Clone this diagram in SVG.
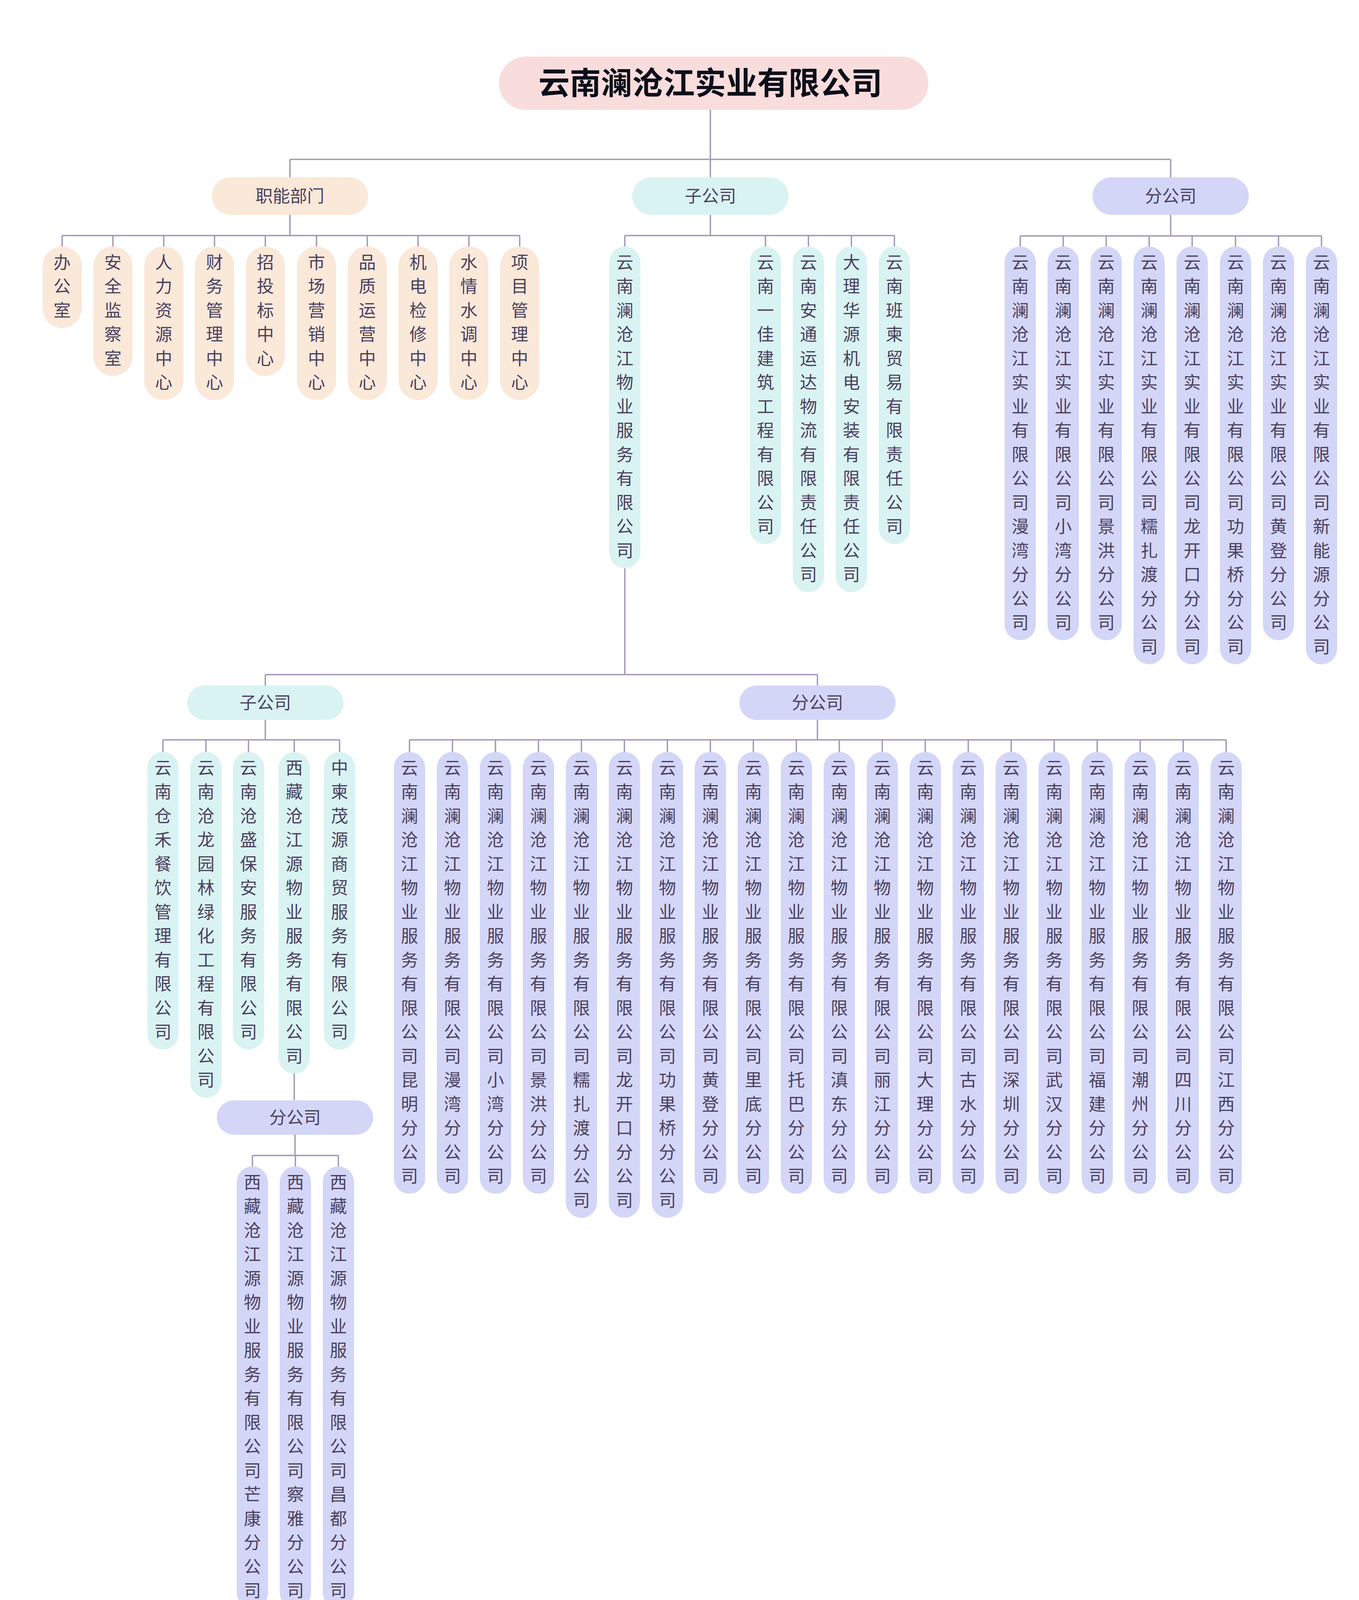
<svg xmlns="http://www.w3.org/2000/svg" width="3478" height="4191" viewBox="0 0 3478 4191">
<style>
.ln{fill:none;stroke:#a398b8;stroke-width:3.5}
.t{font-family:"Liberation Sans","Noto Sans CJK SC",sans-serif;font-size:44px;fill:#4a405f;text-anchor:middle;dominant-baseline:central}
.root{fill:#f9dcdc}.fn{fill:#fae8d9}.sb{fill:#d9f3f2}.br{fill:#d3d6f7}
</style>
<rect width="3478" height="4191" fill="#ffffff"/>
<g id="connectors" class="ln">
<path d="M1818 281V454M742 408H2996M742 408V454M2996 408V455"/>
<path d="M742 550V603M159 603H1330M159 603V631M289 603V631M419 603V631M549 603V631M679 603V631M810 603V631M940 603V631M1070 603V631M1200 603V631M1330 603V631"/>
<path d="M1818 550V603M1599 603H2289M1599 603V631M1959 603V631M2069 603V631M2179 603V631M2289 603V631"/>
<path d="M2996 549V604M2611 604H3382M2611 604V631M2721 604V631M2831 604V631M2941 604V631M3051 604V631M3162 604V631M3272 604V631M3382 604V631"/>
<path d="M1599 1455V1727M679 1727H2092M679 1727V1756M2092 1727V1756"/>
<path d="M679 1843V1894M417 1894H869M417 1894V1925M527 1894V1925M636 1894V1925M753 1894V1925M869 1894V1925"/>
<path d="M2092 1843V1894M1048 1894H3138M1048 1894V1925M1158 1894V1925M1268 1894V1925M1378 1894V1925M1488 1894V1925M1598 1894V1925M1708 1894V1925M1818 1894V1925M1928 1894V1925M2038 1894V1925M2148 1894V1925M2258 1894V1925M2368 1894V1925M2478 1894V1925M2588 1894V1925M2698 1894V1925M2808 1894V1925M2918 1894V1925M3028 1894V1925M3138 1894V1925"/>
<path d="M753 2748V2816M755 2905V2958M646 2958H866M646 2958V2986M756 2958V2986M866 2958V2986"/>
</g>
<g id="root"><rect class="root" x="1277" y="145" width="1099" height="136" rx="68"/><text x="1818" y="213" font-family="Liberation Sans, Noto Sans CJK SC, sans-serif" font-size="80" font-weight="700" fill="#0b0f19" text-anchor="middle" dominant-baseline="central">云南澜沧江实业有限公司</text></g>
<g id="zhineng"><rect class="fn" x="542" y="454" width="400" height="96" rx="48"/><text class="t" x="742" y="502">职能部门</text></g>
<g id="zigongsi"><rect class="sb" x="1618" y="454" width="400" height="96" rx="48"/><text class="t" x="1818" y="502">子公司</text></g>
<g id="fengongsi"><rect class="br" x="2796" y="454" width="400" height="96" rx="48"/><text class="t" x="2996" y="502">分公司</text></g>

<g id="f1"><rect class="fn" x="109" y="631" width="100" height="208.5" rx="50"/><text class="t" x="159 159 159" y="672 733.5 795">办公室</text></g>
<g id="f2"><rect class="fn" x="239" y="631" width="100" height="331.5" rx="50"/><text class="t" x="289 289 289 289 289" y="672 733.5 795 856.5 918">安全监察室</text></g>
<g id="f3"><rect class="fn" x="369" y="631" width="100" height="393" rx="50"/><text class="t" x="419 419 419 419 419 419" y="672 733.5 795 856.5 918 979.5">人力资源中心</text></g>
<g id="f4"><rect class="fn" x="499" y="631" width="100" height="393" rx="50"/><text class="t" x="549 549 549 549 549 549" y="672 733.5 795 856.5 918 979.5">财务管理中心</text></g>
<g id="f5"><rect class="fn" x="629" y="631" width="100" height="331.5" rx="50"/><text class="t" x="679 679 679 679 679" y="672 733.5 795 856.5 918">招投标中心</text></g>
<g id="f6"><rect class="fn" x="760" y="631" width="100" height="393" rx="50"/><text class="t" x="810 810 810 810 810 810" y="672 733.5 795 856.5 918 979.5">市场营销中心</text></g>
<g id="f7"><rect class="fn" x="890" y="631" width="100" height="393" rx="50"/><text class="t" x="940 940 940 940 940 940" y="672 733.5 795 856.5 918 979.5">品质运营中心</text></g>
<g id="f8"><rect class="fn" x="1020" y="631" width="100" height="393" rx="50"/><text class="t" x="1070 1070 1070 1070 1070 1070" y="672 733.5 795 856.5 918 979.5">机电检修中心</text></g>
<g id="f9"><rect class="fn" x="1150" y="631" width="100" height="393" rx="50"/><text class="t" x="1200 1200 1200 1200 1200 1200" y="672 733.5 795 856.5 918 979.5">水情水调中心</text></g>
<g id="f10"><rect class="fn" x="1280" y="631" width="100" height="393" rx="50"/><text class="t" x="1330 1330 1330 1330 1330 1330" y="672 733.5 795 856.5 918 979.5">项目管理中心</text></g>

<g id="s1"><rect class="sb" x="1559" y="631" width="80" height="823.5" rx="40"/><text class="t" x="1599 1599 1599 1599 1599 1599 1599 1599 1599 1599 1599 1599 1599" y="672 733.5 795 856.5 918 979.5 1041 1102.5 1164 1225.5 1287 1348.5 1410">云南澜沧江物业服务有限公司</text></g>
<g id="s2"><rect class="sb" x="1919" y="631" width="80" height="762" rx="40"/><text class="t" x="1959 1959 1959 1959 1959 1959 1959 1959 1959 1959 1959 1959" y="672 733.5 795 856.5 918 979.5 1041 1102.5 1164 1225.5 1287 1348.5">云南一佳建筑工程有限公司</text></g>
<g id="s3"><rect class="sb" x="2029" y="631" width="80" height="885" rx="40"/><text class="t" x="2069 2069 2069 2069 2069 2069 2069 2069 2069 2069 2069 2069 2069 2069" y="672 733.5 795 856.5 918 979.5 1041 1102.5 1164 1225.5 1287 1348.5 1410 1471.5">云南安通运达物流有限责任公司</text></g>
<g id="s4"><rect class="sb" x="2139" y="631" width="80" height="885" rx="40"/><text class="t" x="2179 2179 2179 2179 2179 2179 2179 2179 2179 2179 2179 2179 2179 2179" y="672 733.5 795 856.5 918 979.5 1041 1102.5 1164 1225.5 1287 1348.5 1410 1471.5">大理华源机电安装有限责任公司</text></g>
<g id="s5"><rect class="sb" x="2249" y="631" width="80" height="762" rx="40"/><text class="t" x="2289 2289 2289 2289 2289 2289 2289 2289 2289 2289 2289 2289" y="672 733.5 795 856.5 918 979.5 1041 1102.5 1164 1225.5 1287 1348.5">云南班柬贸易有限责任公司</text></g>

<g id="b1"><rect class="br" x="2571" y="631" width="80" height="1008" rx="40"/><text class="t" x="2611 2611 2611 2611 2611 2611 2611 2611 2611 2611 2611 2611 2611 2611 2611 2611" y="672 733.5 795 856.5 918 979.5 1041 1102.5 1164 1225.5 1287 1348.5 1410 1471.5 1533 1594.5">云南澜沧江实业有限公司漫湾分公司</text></g>
<g id="b2"><rect class="br" x="2681" y="631" width="80" height="1008" rx="40"/><text class="t" x="2721 2721 2721 2721 2721 2721 2721 2721 2721 2721 2721 2721 2721 2721 2721 2721" y="672 733.5 795 856.5 918 979.5 1041 1102.5 1164 1225.5 1287 1348.5 1410 1471.5 1533 1594.5">云南澜沧江实业有限公司小湾分公司</text></g>
<g id="b3"><rect class="br" x="2791" y="631" width="80" height="1008" rx="40"/><text class="t" x="2831 2831 2831 2831 2831 2831 2831 2831 2831 2831 2831 2831 2831 2831 2831 2831" y="672 733.5 795 856.5 918 979.5 1041 1102.5 1164 1225.5 1287 1348.5 1410 1471.5 1533 1594.5">云南澜沧江实业有限公司景洪分公司</text></g>
<g id="b4"><rect class="br" x="2901" y="631" width="80" height="1069.5" rx="40"/><text class="t" x="2941 2941 2941 2941 2941 2941 2941 2941 2941 2941 2941 2941 2941 2941 2941 2941 2941" y="672 733.5 795 856.5 918 979.5 1041 1102.5 1164 1225.5 1287 1348.5 1410 1471.5 1533 1594.5 1656">云南澜沧江实业有限公司糯扎渡分公司</text></g>
<g id="b5"><rect class="br" x="3011" y="631" width="80" height="1069.5" rx="40"/><text class="t" x="3051 3051 3051 3051 3051 3051 3051 3051 3051 3051 3051 3051 3051 3051 3051 3051 3051" y="672 733.5 795 856.5 918 979.5 1041 1102.5 1164 1225.5 1287 1348.5 1410 1471.5 1533 1594.5 1656">云南澜沧江实业有限公司龙开口分公司</text></g>
<g id="b6"><rect class="br" x="3122" y="631" width="80" height="1069.5" rx="40"/><text class="t" x="3162 3162 3162 3162 3162 3162 3162 3162 3162 3162 3162 3162 3162 3162 3162 3162 3162" y="672 733.5 795 856.5 918 979.5 1041 1102.5 1164 1225.5 1287 1348.5 1410 1471.5 1533 1594.5 1656">云南澜沧江实业有限公司功果桥分公司</text></g>
<g id="b7"><rect class="br" x="3232" y="631" width="80" height="1008" rx="40"/><text class="t" x="3272 3272 3272 3272 3272 3272 3272 3272 3272 3272 3272 3272 3272 3272 3272 3272" y="672 733.5 795 856.5 918 979.5 1041 1102.5 1164 1225.5 1287 1348.5 1410 1471.5 1533 1594.5">云南澜沧江实业有限公司黄登分公司</text></g>
<g id="b8"><rect class="br" x="3342" y="631" width="80" height="1069.5" rx="40"/><text class="t" x="3382 3382 3382 3382 3382 3382 3382 3382 3382 3382 3382 3382 3382 3382 3382 3382 3382" y="672 733.5 795 856.5 918 979.5 1041 1102.5 1164 1225.5 1287 1348.5 1410 1471.5 1533 1594.5 1656">云南澜沧江实业有限公司新能源分公司</text></g>

<g id="wy-zigongsi"><rect class="sb" x="479" y="1755" width="400" height="88" rx="44"/><text class="t" x="679" y="1799">子公司</text></g>
<g id="wy-fengongsi"><rect class="br" x="1892" y="1755" width="400" height="88" rx="44"/><text class="t" x="2092" y="1799">分公司</text></g>

<g id="ws1"><rect class="sb" x="377" y="1925" width="80" height="762" rx="40"/><text class="t" x="417 417 417 417 417 417 417 417 417 417 417 417" y="1966 2027.5 2089 2150.5 2212 2273.5 2335 2396.5 2458 2519.5 2581 2642.5">云南仓禾餐饮管理有限公司</text></g>
<g id="ws2"><rect class="sb" x="487" y="1925" width="80" height="885" rx="40"/><text class="t" x="527 527 527 527 527 527 527 527 527 527 527 527 527 527" y="1966 2027.5 2089 2150.5 2212 2273.5 2335 2396.5 2458 2519.5 2581 2642.5 2704 2765.5">云南沧龙园林绿化工程有限公司</text></g>
<g id="ws3"><rect class="sb" x="596" y="1925" width="80" height="762" rx="40"/><text class="t" x="636 636 636 636 636 636 636 636 636 636 636 636" y="1966 2027.5 2089 2150.5 2212 2273.5 2335 2396.5 2458 2519.5 2581 2642.5">云南沧盛保安服务有限公司</text></g>
<g id="ws4"><rect class="sb" x="713" y="1925" width="80" height="823.5" rx="40"/><text class="t" x="753 753 753 753 753 753 753 753 753 753 753 753 753" y="1966 2027.5 2089 2150.5 2212 2273.5 2335 2396.5 2458 2519.5 2581 2642.5 2704">西藏沧江源物业服务有限公司</text></g>
<g id="ws5"><rect class="sb" x="829" y="1925" width="80" height="762" rx="40"/><text class="t" x="869 869 869 869 869 869 869 869 869 869 869 869" y="1966 2027.5 2089 2150.5 2212 2273.5 2335 2396.5 2458 2519.5 2581 2642.5">中柬茂源商贸服务有限公司</text></g>

<g id="wb1"><rect class="br" x="1008" y="1925" width="80" height="1131" rx="40"/><text class="t" x="1048 1048 1048 1048 1048 1048 1048 1048 1048 1048 1048 1048 1048 1048 1048 1048 1048 1048" y="1966 2027.5 2089 2150.5 2212 2273.5 2335 2396.5 2458 2519.5 2581 2642.5 2704 2765.5 2827 2888.5 2950 3011.5">云南澜沧江物业服务有限公司昆明分公司</text></g>
<g id="wb2"><rect class="br" x="1118" y="1925" width="80" height="1131" rx="40"/><text class="t" x="1158 1158 1158 1158 1158 1158 1158 1158 1158 1158 1158 1158 1158 1158 1158 1158 1158 1158" y="1966 2027.5 2089 2150.5 2212 2273.5 2335 2396.5 2458 2519.5 2581 2642.5 2704 2765.5 2827 2888.5 2950 3011.5">云南澜沧江物业服务有限公司漫湾分公司</text></g>
<g id="wb3"><rect class="br" x="1228" y="1925" width="80" height="1131" rx="40"/><text class="t" x="1268 1268 1268 1268 1268 1268 1268 1268 1268 1268 1268 1268 1268 1268 1268 1268 1268 1268" y="1966 2027.5 2089 2150.5 2212 2273.5 2335 2396.5 2458 2519.5 2581 2642.5 2704 2765.5 2827 2888.5 2950 3011.5">云南澜沧江物业服务有限公司小湾分公司</text></g>
<g id="wb4"><rect class="br" x="1338" y="1925" width="80" height="1131" rx="40"/><text class="t" x="1378 1378 1378 1378 1378 1378 1378 1378 1378 1378 1378 1378 1378 1378 1378 1378 1378 1378" y="1966 2027.5 2089 2150.5 2212 2273.5 2335 2396.5 2458 2519.5 2581 2642.5 2704 2765.5 2827 2888.5 2950 3011.5">云南澜沧江物业服务有限公司景洪分公司</text></g>
<g id="wb5"><rect class="br" x="1448" y="1925" width="80" height="1192.5" rx="40"/><text class="t" x="1488 1488 1488 1488 1488 1488 1488 1488 1488 1488 1488 1488 1488 1488 1488 1488 1488 1488 1488" y="1966 2027.5 2089 2150.5 2212 2273.5 2335 2396.5 2458 2519.5 2581 2642.5 2704 2765.5 2827 2888.5 2950 3011.5 3073">云南澜沧江物业服务有限公司糯扎渡分公司</text></g>
<g id="wb6"><rect class="br" x="1558" y="1925" width="80" height="1192.5" rx="40"/><text class="t" x="1598 1598 1598 1598 1598 1598 1598 1598 1598 1598 1598 1598 1598 1598 1598 1598 1598 1598 1598" y="1966 2027.5 2089 2150.5 2212 2273.5 2335 2396.5 2458 2519.5 2581 2642.5 2704 2765.5 2827 2888.5 2950 3011.5 3073">云南澜沧江物业服务有限公司龙开口分公司</text></g>
<g id="wb7"><rect class="br" x="1668" y="1925" width="80" height="1192.5" rx="40"/><text class="t" x="1708 1708 1708 1708 1708 1708 1708 1708 1708 1708 1708 1708 1708 1708 1708 1708 1708 1708 1708" y="1966 2027.5 2089 2150.5 2212 2273.5 2335 2396.5 2458 2519.5 2581 2642.5 2704 2765.5 2827 2888.5 2950 3011.5 3073">云南澜沧江物业服务有限公司功果桥分公司</text></g>
<g id="wb8"><rect class="br" x="1778" y="1925" width="80" height="1131" rx="40"/><text class="t" x="1818 1818 1818 1818 1818 1818 1818 1818 1818 1818 1818 1818 1818 1818 1818 1818 1818 1818" y="1966 2027.5 2089 2150.5 2212 2273.5 2335 2396.5 2458 2519.5 2581 2642.5 2704 2765.5 2827 2888.5 2950 3011.5">云南澜沧江物业服务有限公司黄登分公司</text></g>
<g id="wb9"><rect class="br" x="1888" y="1925" width="80" height="1131" rx="40"/><text class="t" x="1928 1928 1928 1928 1928 1928 1928 1928 1928 1928 1928 1928 1928 1928 1928 1928 1928 1928" y="1966 2027.5 2089 2150.5 2212 2273.5 2335 2396.5 2458 2519.5 2581 2642.5 2704 2765.5 2827 2888.5 2950 3011.5">云南澜沧江物业服务有限公司里底分公司</text></g>
<g id="wb10"><rect class="br" x="1998" y="1925" width="80" height="1131" rx="40"/><text class="t" x="2038 2038 2038 2038 2038 2038 2038 2038 2038 2038 2038 2038 2038 2038 2038 2038 2038 2038" y="1966 2027.5 2089 2150.5 2212 2273.5 2335 2396.5 2458 2519.5 2581 2642.5 2704 2765.5 2827 2888.5 2950 3011.5">云南澜沧江物业服务有限公司托巴分公司</text></g>
<g id="wb11"><rect class="br" x="2108" y="1925" width="80" height="1131" rx="40"/><text class="t" x="2148 2148 2148 2148 2148 2148 2148 2148 2148 2148 2148 2148 2148 2148 2148 2148 2148 2148" y="1966 2027.5 2089 2150.5 2212 2273.5 2335 2396.5 2458 2519.5 2581 2642.5 2704 2765.5 2827 2888.5 2950 3011.5">云南澜沧江物业服务有限公司滇东分公司</text></g>
<g id="wb12"><rect class="br" x="2218" y="1925" width="80" height="1131" rx="40"/><text class="t" x="2258 2258 2258 2258 2258 2258 2258 2258 2258 2258 2258 2258 2258 2258 2258 2258 2258 2258" y="1966 2027.5 2089 2150.5 2212 2273.5 2335 2396.5 2458 2519.5 2581 2642.5 2704 2765.5 2827 2888.5 2950 3011.5">云南澜沧江物业服务有限公司丽江分公司</text></g>
<g id="wb13"><rect class="br" x="2328" y="1925" width="80" height="1131" rx="40"/><text class="t" x="2368 2368 2368 2368 2368 2368 2368 2368 2368 2368 2368 2368 2368 2368 2368 2368 2368 2368" y="1966 2027.5 2089 2150.5 2212 2273.5 2335 2396.5 2458 2519.5 2581 2642.5 2704 2765.5 2827 2888.5 2950 3011.5">云南澜沧江物业服务有限公司大理分公司</text></g>
<g id="wb14"><rect class="br" x="2438" y="1925" width="80" height="1131" rx="40"/><text class="t" x="2478 2478 2478 2478 2478 2478 2478 2478 2478 2478 2478 2478 2478 2478 2478 2478 2478 2478" y="1966 2027.5 2089 2150.5 2212 2273.5 2335 2396.5 2458 2519.5 2581 2642.5 2704 2765.5 2827 2888.5 2950 3011.5">云南澜沧江物业服务有限公司古水分公司</text></g>
<g id="wb15"><rect class="br" x="2548" y="1925" width="80" height="1131" rx="40"/><text class="t" x="2588 2588 2588 2588 2588 2588 2588 2588 2588 2588 2588 2588 2588 2588 2588 2588 2588 2588" y="1966 2027.5 2089 2150.5 2212 2273.5 2335 2396.5 2458 2519.5 2581 2642.5 2704 2765.5 2827 2888.5 2950 3011.5">云南澜沧江物业服务有限公司深圳分公司</text></g>
<g id="wb16"><rect class="br" x="2658" y="1925" width="80" height="1131" rx="40"/><text class="t" x="2698 2698 2698 2698 2698 2698 2698 2698 2698 2698 2698 2698 2698 2698 2698 2698 2698 2698" y="1966 2027.5 2089 2150.5 2212 2273.5 2335 2396.5 2458 2519.5 2581 2642.5 2704 2765.5 2827 2888.5 2950 3011.5">云南澜沧江物业服务有限公司武汉分公司</text></g>
<g id="wb17"><rect class="br" x="2768" y="1925" width="80" height="1131" rx="40"/><text class="t" x="2808 2808 2808 2808 2808 2808 2808 2808 2808 2808 2808 2808 2808 2808 2808 2808 2808 2808" y="1966 2027.5 2089 2150.5 2212 2273.5 2335 2396.5 2458 2519.5 2581 2642.5 2704 2765.5 2827 2888.5 2950 3011.5">云南澜沧江物业服务有限公司福建分公司</text></g>
<g id="wb18"><rect class="br" x="2878" y="1925" width="80" height="1131" rx="40"/><text class="t" x="2918 2918 2918 2918 2918 2918 2918 2918 2918 2918 2918 2918 2918 2918 2918 2918 2918 2918" y="1966 2027.5 2089 2150.5 2212 2273.5 2335 2396.5 2458 2519.5 2581 2642.5 2704 2765.5 2827 2888.5 2950 3011.5">云南澜沧江物业服务有限公司潮州分公司</text></g>
<g id="wb19"><rect class="br" x="2988" y="1925" width="80" height="1131" rx="40"/><text class="t" x="3028 3028 3028 3028 3028 3028 3028 3028 3028 3028 3028 3028 3028 3028 3028 3028 3028 3028" y="1966 2027.5 2089 2150.5 2212 2273.5 2335 2396.5 2458 2519.5 2581 2642.5 2704 2765.5 2827 2888.5 2950 3011.5">云南澜沧江物业服务有限公司四川分公司</text></g>
<g id="wb20"><rect class="br" x="3098" y="1925" width="80" height="1131" rx="40"/><text class="t" x="3138 3138 3138 3138 3138 3138 3138 3138 3138 3138 3138 3138 3138 3138 3138 3138 3138 3138" y="1966 2027.5 2089 2150.5 2212 2273.5 2335 2396.5 2458 2519.5 2581 2642.5 2704 2765.5 2827 2888.5 2950 3011.5">云南澜沧江物业服务有限公司江西分公司</text></g>

<g id="xz-fengongsi"><rect class="br" x="555" y="2817" width="400" height="88" rx="44"/><text class="t" x="755" y="2861">分公司</text></g>
<g id="xb1"><rect class="br" x="606" y="2986" width="80" height="1131" rx="40"/><text class="t" x="646 646 646 646 646 646 646 646 646 646 646 646 646 646 646 646 646 646" y="3027 3088.5 3150 3211.5 3273 3334.5 3396 3457.5 3519 3580.5 3642 3703.5 3765 3826.5 3888 3949.5 4011 4072.5">西藏沧江源物业服务有限公司芒康分公司</text></g>
<g id="xb2"><rect class="br" x="716" y="2986" width="80" height="1131" rx="40"/><text class="t" x="756 756 756 756 756 756 756 756 756 756 756 756 756 756 756 756 756 756" y="3027 3088.5 3150 3211.5 3273 3334.5 3396 3457.5 3519 3580.5 3642 3703.5 3765 3826.5 3888 3949.5 4011 4072.5">西藏沧江源物业服务有限公司察雅分公司</text></g>
<g id="xb3"><rect class="br" x="826" y="2986" width="80" height="1131" rx="40"/><text class="t" x="866 866 866 866 866 866 866 866 866 866 866 866 866 866 866 866 866 866" y="3027 3088.5 3150 3211.5 3273 3334.5 3396 3457.5 3519 3580.5 3642 3703.5 3765 3826.5 3888 3949.5 4011 4072.5">西藏沧江源物业服务有限公司昌都分公司</text></g>
</svg>
